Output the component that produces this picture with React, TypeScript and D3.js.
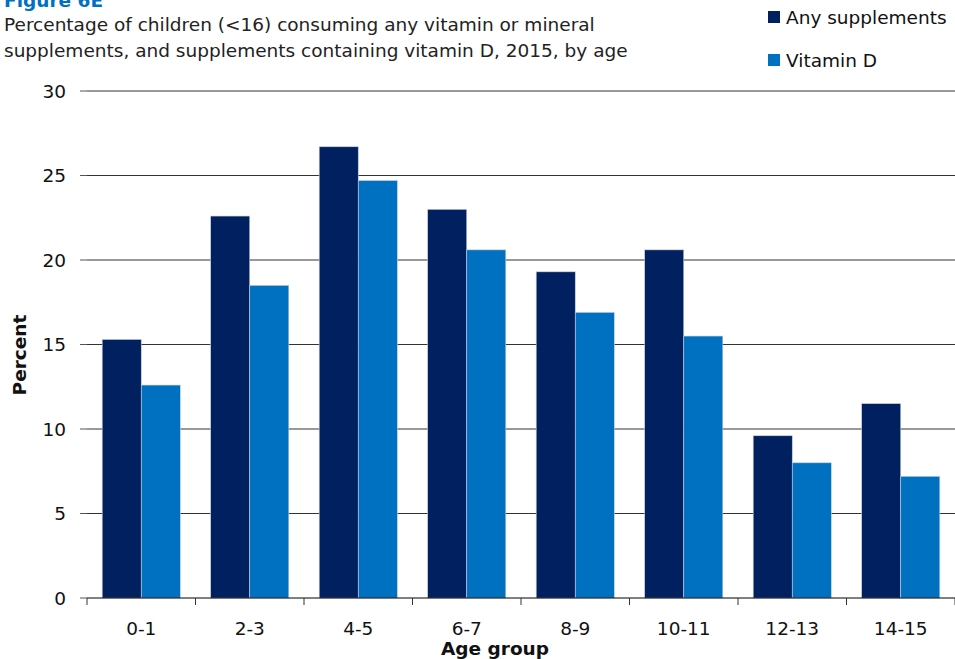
import React from "react";
import * as d3 from "d3";

const ageGroups = ["0-1", "2-3", "4-5", "6-7", "8-9", "10-11", "12-13", "14-15"];
const anySupplements = [15.3, 22.6, 26.7, 23.0, 19.3, 20.6, 9.6, 11.5];
const vitaminD = [12.6, 18.5, 24.7, 20.6, 16.9, 15.5, 8.0, 7.2];
const seriesNames = ["Any supplements", "Vitamin D"];
const seriesColors = ["#002060", "#0070C0"];
const yTicks = [0, 5, 10, 15, 20, 25, 30];

const W = 955;
const H = 659;
const FONT = "Verdana, 'DejaVu Sans', sans-serif";
const FS = 18.5;

export default function App() {
  const left = 87;
  const right = 955;
  const top = 91;
  const bottom = 598;

  const x = d3.scaleBand<string>().domain(ageGroups).range([left, right]).paddingInner(0.28).paddingOuter(0.14);
  const xs = d3.scaleBand<number>().domain([0, 1]).range([0, x.bandwidth()]);
  const y = d3.scaleLinear().domain([0, 30]).range([bottom, top]);
  const step = x.step();
  const values = [anySupplements, vitaminD];

  return (
    <svg width={W} height={H} style={{ position: "absolute", left: 0, top: 0 }} fontFamily={FONT}>
      <rect width={W} height={H} fill="#fff" />
      <text x={4} y={7} fontSize={FS} fontWeight="bold" fill="#0070C0">Figure 6E</text>
      <text x={4} y={31} fontSize={FS} fill="#222">Percentage of children (&lt;16) consuming any vitamin or mineral</text>
      <text x={4} y={57} fontSize={FS} fill="#222">supplements, and supplements containing vitamin D, 2015, by age</text>

      {seriesNames.map((n, i) => (
        <g key={n}>
          <rect x={768} y={11 + i * 43} width={12} height={12} fill={seriesColors[i]} />
          <text x={786} y={24 + i * 43} fontSize={FS} fill="#111">{n}</text>
        </g>
      ))}

      {yTicks.map((t) => (
        <g key={t}>
          {t > 0 && <line x1={left} x2={right} y1={y(t)} y2={y(t)} stroke="#333" strokeWidth={1} />}
          <line x1={left - 7} x2={left} y1={y(t)} y2={y(t)} stroke="#555" strokeWidth={1} />
          <text x={66} y={y(t) + 6.5} fontSize={FS} textAnchor="end" fill="#111">{t}</text>
        </g>
      ))}

      {ageGroups.map((g, gi) =>
        values.map((vals, si) => (
          <rect
            key={g + si}
            x={(x(g) as number) + (xs(si) as number)}
            y={y(vals[gi])}
            width={xs.bandwidth()}
            height={bottom - y(vals[gi])}
            fill={seriesColors[si]}
            stroke="#c8d0e0"
            strokeWidth={0.6}
          />
        ))
      )}

      <line x1={left} x2={right} y1={bottom} y2={bottom} stroke="#000" strokeWidth={1} />
      {d3.range(ageGroups.length + 1).map((i) => (
        <line key={i} x1={left + i * step} x2={left + i * step} y1={bottom} y2={bottom + 7} stroke="#333" strokeWidth={1} />
      ))}
      {ageGroups.map((g) => (
        <text key={g} x={(x(g) as number) + x.bandwidth() / 2} y={635} fontSize={FS} textAnchor="middle" fill="#111">{g}</text>
      ))}

      <text x={495} y={655} fontSize={FS} fontWeight="bold" textAnchor="middle" fill="#111">Age group</text>
      <text transform={`translate(26,355) rotate(-90)`} fontSize={FS} fontWeight="bold" textAnchor="middle" fill="#111">Percent</text>
    </svg>
  );
}
